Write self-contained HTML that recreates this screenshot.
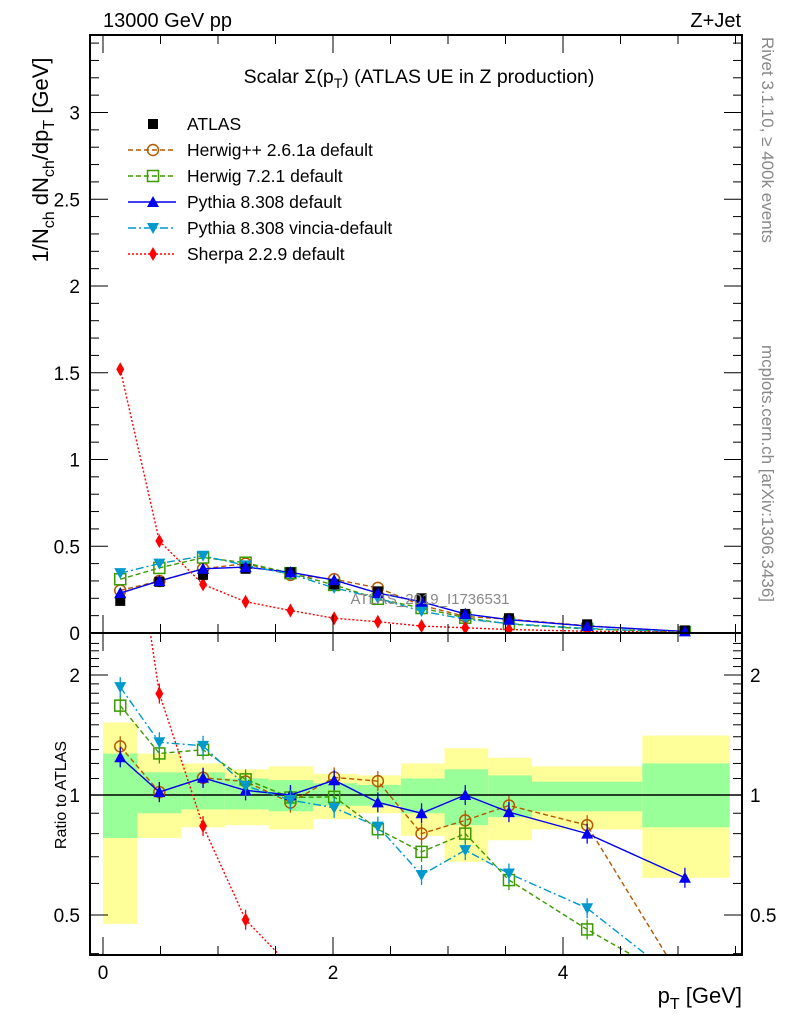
<!DOCTYPE html>
<html><head><meta charset="utf-8"><style>
html,body{margin:0;background:#fff;overflow:hidden;width:786px;height:1024px;}
svg{display:block;font-family:"Liberation Sans","DejaVu Sans",sans-serif;}
</style></head><body>
<svg id="c" width="786" height="1024" viewBox="0 0 786 1024">
<text x="103" y="27" font-size="20">13000 GeV pp</text>
<text x="741" y="27" font-size="20" text-anchor="end">Z+Jet</text>
<text x="419" y="83" font-size="19.5" text-anchor="middle">Scalar Σ(p<tspan font-size="14" dy="5">T</tspan><tspan dy="-5">) (ATLAS UE in Z production)</tspan></text>
<text transform="translate(48,160) rotate(-90)" font-size="22" text-anchor="middle">1/N<tspan font-size="16" dy="6">ch</tspan><tspan dy="-6"> dN</tspan><tspan font-size="16" dy="6">ch</tspan><tspan dy="-6">/dp</tspan><tspan font-size="16" dy="6">T</tspan><tspan dy="-6"> [GeV]</tspan></text>
<text transform="translate(66,795) rotate(-90)" font-size="16" text-anchor="middle">Ratio to ATLAS</text>
<text x="742" y="1003" font-size="22" text-anchor="end">p<tspan font-size="16" dy="6">T</tspan><tspan dy="-6"> [GeV]</tspan></text>
<text transform="translate(762,37) rotate(90)" font-size="17" fill="#888">Rivet 3.1.10, ≥ 400k events</text>
<text transform="translate(762,345) rotate(90)" font-size="17" fill="#888">mcplots.cern.ch [arXiv:1306.3436]</text>
<g id="bands"></g><g id="marks"></g><g id="axes"></g>
<text x="430" y="604" font-size="15" fill="#888" text-anchor="middle">ATLAS_2019_I1736531</text>
<g id="legend"></g>
</svg>
<script>
const xs=[0.15,0.49,0.87,1.24,1.63,2.01,2.39,2.77,3.15,3.53,4.21,5.06];
const edges=[0,0.3,0.68,1.06,1.44,1.83,2.21,2.59,2.97,3.35,3.73,4.69,5.45];
const atlas=[0.185,0.295,0.335,0.37,0.35,0.28,0.24,0.20,0.11,0.085,0.05,0.015];
const herwigpp=[0.245,0.30,0.37,0.40,0.335,0.31,0.26,0.16,0.095,0.08,0.042,0.005];
const herwig7=[0.31,0.375,0.435,0.405,0.345,0.277,0.197,0.144,0.088,0.052,0.023,0.005];
const pythia=[0.23,0.30,0.37,0.38,0.35,0.305,0.23,0.18,0.11,0.077,0.04,0.0093];
const vincia=[0.345,0.40,0.445,0.39,0.34,0.26,0.20,0.126,0.08,0.054,0.026,0.005];
const sherpa=[1.52,0.53,0.28,0.18,0.13,0.085,0.065,0.04,0.03,0.02,0.01,0.005];
const yellowHi=[1.52,1.27,1.2,1.16,1.18,1.13,1.12,1.2,1.31,1.24,1.18,1.41];
const yellowLo=[0.475,0.78,0.83,0.84,0.82,0.87,0.9,0.79,0.68,0.77,0.82,0.62];
const greenHi=[1.27,1.14,1.14,1.10,1.09,1.07,1.06,1.10,1.16,1.12,1.08,1.2];
const greenLo=[0.78,0.90,0.92,0.92,0.91,0.94,0.94,0.90,0.84,0.88,0.91,0.83];
const mainTicks=["0","0.5","1","1.5","2","2.5","3"];
const ratioTicks=["0.5","1","2"];
const xTicks=["0","2","4"];

const NS="http://www.w3.org/2000/svg";
const L=90,R=742,T=35,M=633,B=955;
const X=v=>103+115*v;
const Y=v=>633-173.5*v;
const RY=r=>795-120*Math.log2(r);
function mk(tag,attrs,parent){const e=document.createElementNS(NS,tag);for(const k in attrs)e.setAttribute(k,attrs[k]);document.getElementById(parent).appendChild(e);return e;}
for(let i=0;i<yellowHi.length;i++){
 const y=mk('rect',{x:X(edges[i]),y:RY(yellowHi[i]),width:X(edges[i+1])-X(edges[i]),height:RY(yellowLo[i])-RY(yellowHi[i]),fill:'#ffff99'},'bands');
 
 
 const g=mk('rect',{x:X(edges[i]),y:RY(greenHi[i]),width:X(edges[i+1])-X(edges[i]),height:RY(greenLo[i])-RY(greenHi[i]),fill:'#99ff99'},'bands');
 
 
}
const cp=mk('clipPath',{id:'cm'},'marks');
cp.innerHTML='<rect x="90" y="35" width="652" height="598"/>';
const cr=mk('clipPath',{id:'cr'},'marks');cr.innerHTML='<rect x="90" y="633" width="652" height="322"/>';
const one=mk('line',{x1:L,x2:R,y1:RY(1),y2:RY(1),stroke:'#000','stroke-width':1.5},'marks');


function marker(kind,x,y,col,g){
 let e;
 if(kind==='sq')e=mk('rect',{x:x-5,y:y-5,width:10,height:10,fill:'#000'},g);
 else if(kind==='osq')e=mk('rect',{x:x-5.5,y:y-5.5,width:11,height:11,fill:'none',stroke:col,'stroke-width':1.5},g);
 else if(kind==='circ')e=mk('circle',{cx:x,cy:y,r:5.5,fill:'none',stroke:col,'stroke-width':1.5},g);
 else if(kind==='up')e=mk('polygon',{points:`${x-6},${y+5} ${x+6},${y+5} ${x},${y-6}`,fill:col},g);
 else if(kind==='down')e=mk('polygon',{points:`${x-6},${y-5} ${x+6},${y-5} ${x},${y+6}`,fill:col},g);
 else e=mk('polygon',{points:`${x},${y-7} ${x+4},${y} ${x},${y+7} ${x-4},${y}`,fill:col},g);
 return e;
}
const series=[
 {n:'herwigpp',v:herwigpp,c:'#b35900',m:'circ',d:'5,3',lab:'Herwig++ 2.6.1a default'},
 {n:'herwig7',v:herwig7,c:'#3a9a00',m:'osq',d:'5,3',lab:'Herwig 7.2.1 default'},
 {n:'pythia',v:pythia,c:'#0000ee',m:'up',d:'',lab:'Pythia 8.308 default'},
 {n:'vincia',v:vincia,c:'#0099cc',m:'down',d:'8,3,2,3',lab:'Pythia 8.308 vincia-default'},
 {n:'sherpa',v:sherpa,c:'#ff0000',m:'dia',d:'2,2',lab:'Sherpa 2.2.9 default'}];
for(const s of series){
 const gm=mk('g',{'clip-path':'url(#cm)'},'marks');
 
 
 const pl=mk('polyline',{points:xs.map((x,i)=>X(x)+','+Y(s.v[i])).join(' '),fill:'none',stroke:s.c,'stroke-width':1.4,'stroke-dasharray':s.d},'marks');
 gm.appendChild(pl);
 xs.forEach((x,i)=>{const e=marker(s.m,X(x),Y(s.v[i]),s.c,'marks');gm.appendChild(e);});
 const gr=mk('g',{'clip-path':'url(#cr)'},'marks');
 
 
 const rp=mk('polyline',{points:xs.map((x,i)=>X(x)+','+RY(s.v[i]/atlas[i])).join(' '),fill:'none',stroke:s.c,'stroke-width':1.4,'stroke-dasharray':s.d},'marks');
 gr.appendChild(rp);
 xs.forEach((x,i)=>{const y=RY(s.v[i]/atlas[i]);
  const el=mk('line',{x1:X(x),x2:X(x),y1:y-10,y2:y+10,stroke:s.c,'stroke-width':1.3},'marks');gr.appendChild(el);
  const e=marker(s.m,X(x),y,s.c,'marks');gr.appendChild(e);});
}
const ga=mk('g',{},'marks');


xs.forEach((x,i)=>{const e=marker('sq',X(x),Y(atlas[i]),'#000','marks');ga.appendChild(e);});
xs.forEach((x,i)=>{const e=marker('up',X(x),Y(pythia[i]),'#0000ee','marks');ga.appendChild(e);});
mk('rect',{x:L,y:T,width:R-L,height:M-T,fill:'none',stroke:'#000','stroke-width':2},'axes');
mk('rect',{x:L,y:M,width:R-L,height:B-M,fill:'none',stroke:'#000','stroke-width':2},'axes');
for(let v=0;v<=3.41;v+=0.1){const big=Math.abs(v*2-Math.round(v*2))<1e-6;const l=big?18:9;
 mk('line',{x1:L,x2:L+l,y1:Y(v),y2:Y(v),stroke:'#000'},'axes');mk('line',{x1:R,x2:R-l,y1:Y(v),y2:Y(v),stroke:'#000'},'axes');}
mainTicks.forEach(t=>{const e=mk('text',{x:80,y:Y(+t)+7,'font-size':19,'text-anchor':'end'},'axes');e.textContent=t;
 
 });
for(let r=0.4;r<=2.5;r+=0.1){const big=[0.5,1,2].some(b=>Math.abs(b-r)<1e-6);const l=big?18:9;const y=RY(r);if(y<M||y>B)continue;
 mk('line',{x1:L,x2:L+l,y1:y,y2:y,stroke:'#000'},'axes');mk('line',{x1:R,x2:R-l,y1:y,y2:y,stroke:'#000'},'axes');}
ratioTicks.forEach(t=>{const e=mk('text',{x:80,y:RY(+t)+7,'font-size':19,'text-anchor':'end'},'axes');e.textContent=t;
 
 
 const e2=mk('text',{x:750,y:RY(+t)+7,'font-size':19},'axes');e2.textContent=t;
 
 });
for(let v=0;v<=5.5;v+=0.5){const big=Math.abs(v-Math.round(v/2)*2)<1e-6;const l=big?18:9;
 for(const [yb,dir] of [[M,-1],[T,1],[B,-1],[M,1]])mk('line',{x1:X(v),x2:X(v),y1:yb,y2:yb+dir*l,stroke:'#000'},'axes');}
xTicks.forEach(t=>{const e=mk('text',{x:X(+t),y:979,'font-size':19,'text-anchor':'middle'},'axes');e.textContent=t;
 
 });
const le=mk('g',{},'legend');


marker('sq',153,124,'#000','legend');
const t0=mk('text',{x:187,y:130,'font-size':17.5},'legend');t0.textContent='ATLAS';


series.forEach((s,i)=>{const y=150+i*26;
 mk('line',{x1:128,x2:176,y1:y,y2:y,stroke:s.c,'stroke-width':1.4,'stroke-dasharray':s.d},'legend');
 marker(s.m,153,y,s.c,'legend');
 const t=mk('text',{x:187,y:y+6,'font-size':17.5},'legend');t.textContent=s.lab;
 
 });
</script>
</body></html>
